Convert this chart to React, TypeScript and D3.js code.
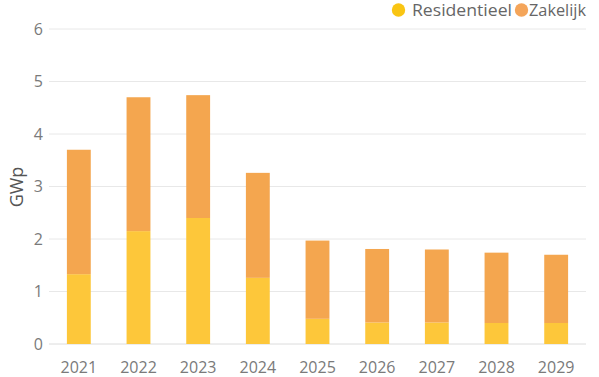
import React from "react";
import * as d3 from "d3";

const years = ["2021", "2022", "2023", "2024", "2025", "2026", "2027", "2028", "2029"];
const residentieel = [1.33, 2.15, 2.4, 1.26, 0.48, 0.41, 0.41, 0.4, 0.4];
const zakelijk = [2.37, 2.55, 2.34, 2.0, 1.49, 1.4, 1.39, 1.34, 1.3];
const yTicks = [0, 1, 2, 3, 4, 5, 6];
const seriesNames = ["Residentieel", "Zakelijk"];
const barColors = ["#FDC73A", "#F4A64F"];
const legendColors = ["#F9C513", "#F4A55A"];

const W = 599;
const H = 377;
const left = 49;
const right = 586;
const top = 29;
const bottom = 344;
const font = "'Open Sans', Lato, sans-serif";

export default function App() {
  const x = d3.scaleBand<string>().domain(years).range([left, right]).paddingInner(0.6).paddingOuter(0.3);
  const y = d3.scaleLinear().domain([0, 6]).range([bottom, top]);
  const rows = years.map((yr, i) => ({ year: yr, Residentieel: residentieel[i], Zakelijk: zakelijk[i] }));
  const stack = d3.stack<any>().keys(seriesNames)(rows);

  return (
    <svg width={W} height={H} style={{ position: "absolute", left: 0, top: 0 }}>
      <rect width={W} height={H} fill="#fff" />
      {yTicks.map((t) => (
        <g key={t}>
          <line x1={left} x2={right} y1={y(t)} y2={y(t)} stroke={t === 0 ? "#dcdcdc" : "#e8e8e8"} strokeWidth={1} />
          <text x={43} y={y(t)} dy="0.36em" textAnchor="end" fontFamily={font} fontSize={16} fill="#7a7a7a">
            {t}
          </text>
        </g>
      ))}
      {stack.map((s, si) => (
        <g key={si} fill={barColors[si]}>
          {s.map((d, i) => (
            <rect key={i} x={x(years[i])} width={x.bandwidth()} y={y(d[1])} height={y(d[0]) - y(d[1])} />
          ))}
        </g>
      ))}
      {years.map((yr) => (
        <text key={yr} x={(x(yr) as number) + x.bandwidth() / 2} y={373} textAnchor="middle" fontFamily={font} fontSize={16} fill="#7a7a7a">
          {yr}
        </text>
      ))}
      <text transform={`translate(23,187) rotate(-90)`} textAnchor="middle" fontFamily={font} fontSize={18} fill="#555">
        GWp
      </text>
      <g fontFamily={font} fontSize={16} fill="#666">
        <circle cx={398.5} cy={10} r={6.7} fill={legendColors[0]} />
        <text x={412} y={10} dy="0.36em" textLength={100} lengthAdjust="spacingAndGlyphs">{seriesNames[0]}</text>
        <circle cx={521.5} cy={10} r={6.7} fill={legendColors[1]} />
        <text x={529} y={10} dy="0.36em" textLength={57} lengthAdjust="spacingAndGlyphs">{seriesNames[1]}</text>
      </g>
    </svg>
  );
}
